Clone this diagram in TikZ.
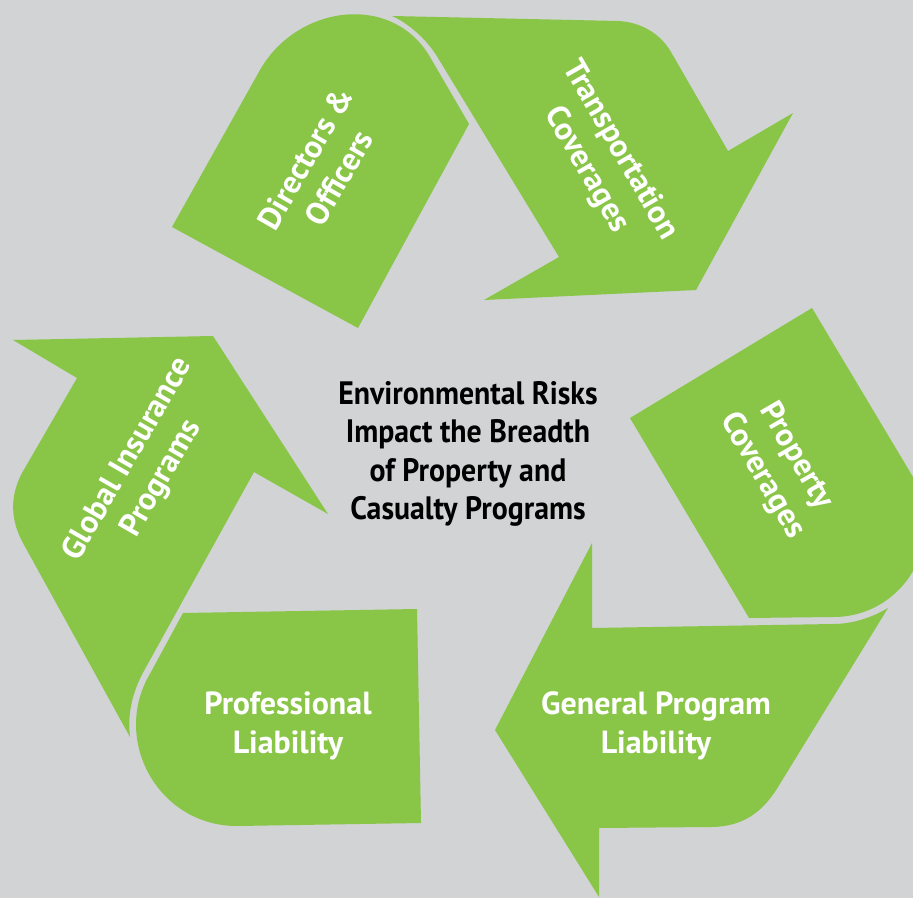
\documentclass[tikz,border=0pt]{standalone}
\usepackage{fontspec}
\setmainfont{PT Sans}
\newfontfamily\hubfont[FakeStretch=0.92]{PT Sans}
\definecolor{leaf}{RGB}{137,197,71}
\definecolor{bgray}{RGB}{209,211,212}

\begin{document}
\begin{tikzpicture}[x=0.5pt,y=-0.5pt,
		piece/.style={fill=leaf},
		lbl/.style={text=white, align=center, inner sep=0pt, font=\fontsize{16}{19.5}\selectfont\bfseries},
		hub/.style={text=black, align=center, inner sep=0pt, font=\hubfont\fontsize{16.2}{19.3}\selectfont\bfseries}]
		\useasboundingbox (0,0) rectangle (913,898);
		\clip (0,0) rectangle (913,898);
		\fill[bgray] (0,0) rectangle (913,898);
		
		\fill[piece] (172,227) -- (260,70) .. controls (297,5) and (392,-8) .. (430,57) -- (469,124) -- (358,328) -- cycle;
		\fill[piece] (392,16) -- (618,21) .. controls (640,22) and (660,33) .. (671,52) -- (728,151) -- (793,113) -- (696,290) -- (484,300) -- (559,257) -- (438,58) .. controls (428,41) and (410,24) .. (392,16) -- cycle;
		\fill[piece] (630,418) -- (812,308) -- (913,477) .. controls (949,539) and (905,617) .. (833,617) -- (749,618) -- cycle;
		\fill[piece] (592,543) -- (592,628) -- (833,624) .. controls (852,624) and (871,618) .. (888,608) -- (778,787) .. controls (762,813) and (742,827) .. (710,827) -- (599,828) -- (599,897) -- (495,730) -- cycle;
		\fill[piece] (13,340) -- (213,336) -- (328,514) -- (254,472) -- (145,669) .. controls (133,690) and (127,713) .. (130,737) -- (23,543) .. controls (10,519) and (10,496) .. (22,473) -- (77,378) -- cycle;
		\fill[piece] (183,613) -- (417,609) -- (421,823) -- (237,826) .. controls (158,826) and (110,739) .. (151,672) -- cycle;
		
		\node[lbl, rotate=60] (dando) at (322,168) {Directors \&\\Officers};
		\node[lbl, rotate=-60] (transport) at (603,160) {Transportation\\Coverages};
		\node[lbl, rotate=-60] (property) at (779,466) {Property\\Coverages};
		\node[lbl, rotate=60] (global) at (145,469) {Global Insurance\\Programs};
		\node[lbl] (profliab) at (288,726) {Professional\\Liability};
		\node[lbl] (genliab) at (656,726) {General Program\\Liability};
		\node[hub] (risks) at (468,454) {Environmental Risks\\Impact the Breadth\\of Property and\\Casualty Programs};
		
	\end{tikzpicture}
\end{document}
